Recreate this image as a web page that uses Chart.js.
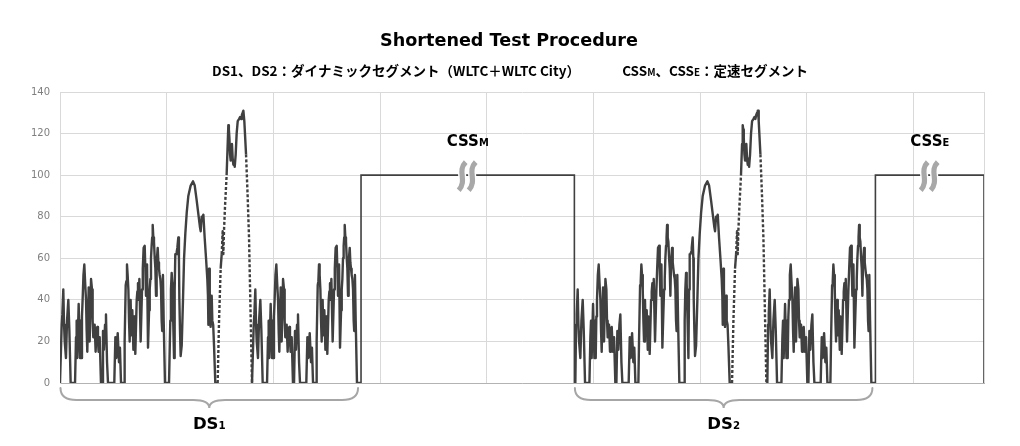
<!DOCTYPE html>
<html><head><meta charset="utf-8">
<script src="https://cdn.jsdelivr.net/npm/chart.js@4.4.1/dist/chart.umd.min.js"></script>
<style>html,body{margin:0;padding:0;background:#fff}#wrap{width:1020px;height:446px;position:relative}</style>
</head><body><div id="wrap"><canvas id="c" width="1020" height="446"></canvas></div>
<script>
// ---------- texts ----------
const titleText = 'Shortened Test Procedure';
const subtitleLeft = 'DS1、DS2：ダイナミックセグメント（WLTC＋WLTC City）';
const subtitleRight = [['CSS', 1], ['M', 0.72], ['、CSS', 1], ['E', 0.72], ['：定速セグメント', 1]];

// ---------- speed trace (time s, speed km/h) ----------
// WLTC low + medium phase (also used as "WLTC City")
const lowMedTime  = [0, 9, 16, 22, 31, 38, 44, 50, 56, 66, 78, 88, 100, 141, 150, 156, 162, 175, 188, 194, 200, 206, 212, 220, 228, 236, 244, 250, 256, 269, 278, 291, 300, 306, 312, 325, 334, 342, 350, 356, 362, 372, 384, 394, 403, 412, 422, 431, 441, 450, 509, 519, 528, 541, 553, 562, 572, 600,
  606, 616, 622, 628, 634, 641, 647, 653, 662, 669, 678, 688, 694, 700, 706, 719, 725, 731, 738, 744, 756, 769, 776, 784, 794, 800, 806, 816, 825, 835, 841, 847, 853, 859, 864, 869, 875, 881, 888, 894, 900, 906, 916, 922, 928, 934, 941, 947, 953, 958, 965, 972, 984, 1022];
const lowMedSpeed = [0, 0, 28, 33, 45, 28, 20, 16, 12, 30, 40, 25, 0, 0, 22, 30, 12, 38, 12, 30, 12, 32, 40, 52, 57, 48, 40, 25, 15, 46, 20, 50, 45, 30, 22, 28, 15, 26, 27, 20, 15, 22, 0, 0, 25, 16, 28, 33, 10, 0, 0, 22, 12, 24, 10, 17, 0, 0,
  20, 47, 49, 57, 52, 45, 30, 20, 40, 23, 35, 16, 32, 25, 14, 40, 44, 48, 40, 50, 20, 45, 55, 65, 66, 55, 42, 57, 17, 35, 45, 50, 60, 66, 70, 76, 70, 68, 60, 55, 42, 58, 65, 58, 55, 52, 50, 45, 30, 25, 52, 30, 0, 0];
// WLTC high phase
const highTime  = [1028, 1034, 1040, 1047, 1053, 1059, 1069, 1075, 1081, 1088, 1094, 1100, 1109, 1115, 1119, 1125, 1131, 1141, 1153, 1163, 1175, 1188, 1203, 1225, 1247, 1263, 1281, 1300, 1312, 1319, 1328, 1335, 1344, 1356, 1369, 1381, 1387, 1391, 1397, 1402, 1406, 1412, 1418, 1422, 1428, 1436, 1444, 1456, 1478];
const highSpeed = [0, 30, 45, 53, 48, 35, 12, 45, 62, 62, 63, 65, 70, 60, 40, 25, 13, 18, 40, 60, 72, 82, 90, 95, 97, 95, 88, 80, 75, 73, 80, 79, 81, 70, 60, 50, 42, 28, 55, 45, 40, 27, 35, 42, 30, 28, 18, 0, 0];
// WLTC extra high phase
const exHighTime  = [1491, 1506, 1516, 1525, 1531, 1538, 1547, 1562, 1572, 1578, 1583, 1588, 1594, 1600, 1606, 1612, 1619, 1625, 1632, 1638, 1647, 1656, 1666, 1678, 1688, 1697, 1705, 1712, 1719, 1722, 1728, 1744, 1759, 1772, 1784, 1794, 1800];
const exHighSpeed = [30, 55, 62, 73, 62, 74, 85, 100, 115, 124, 122, 118, 110, 107, 112, 115, 108, 105, 106, 104, 110, 120, 126, 127, 128, 127, 129, 130, 131, 131, 126, 110, 90, 70, 40, 15, 0];
const cityOffset = 1800;          // WLTC City follows the full WLTC
const exHighRange = [1478, 1800];

// ---------- segments ----------
const dsStart  = [0, 4822];
const dsSub    = ['1', '2'];
const cssStart = [2822, 7644];
const cssEnd   = [4822, 8662];
const cssSpeed = [100, 100];
const cssSub   = ['M', 'E'];

// ---------- axes ----------
const xMax = 8662, xGridStep = 1000;
const yMin = 0, yMax = 140, yStep = 20;

function buildDS(off) {
  const pts = [];
  const add = (T, V, o) => T.forEach((t, i) => pts.push({x: off + o + t, y: V[i]}));
  add(lowMedTime, lowMedSpeed, 0);
  add(highTime, highSpeed, 0);
  add(exHighTime, exHighSpeed, 0);
  add(lowMedTime, lowMedSpeed, cityOffset);
  return pts;
}
const cssPts = [];
cssStart.forEach((s, i) => {
  if (i) cssPts.push({x: s, y: null});
  cssPts.push({x: s, y: 0}, {x: s, y: cssSpeed[i]}, {x: cssEnd[i], y: cssSpeed[i]}, {x: cssEnd[i], y: 0});
});

const DARK = '#404040';
function dashSeg(ctx) {
  const off = dsStart[ctx.datasetIndex];
  const a = ctx.p0.parsed, b = ctx.p1.parsed;
  const t0 = a.x - off, t1 = b.x - off;
  if (t0 < exHighRange[0] || t1 > exHighRange[1]) return undefined;
  if (a.y >= 100 && b.y >= 100) return undefined;
  const slope = Math.abs(b.y - a.y) / Math.max(1e-6, (b.x - a.x));
  return (slope >= 0.95 && Math.abs(b.y - a.y) >= 10) ? [3, 2] : undefined;
}

const CJK = '"Noto Sans CJK JP", "Noto Sans"';
const LAT = '"DejaVu Sans"';
function drawRich(ctx, pieces, x, y, base, align, fam) {
  let total = 0;
  pieces.forEach(p => { ctx.font = 'bold ' + (base * p[1]) + 'px ' + fam; total += ctx.measureText(p[0]).width; });
  let cx = align === 'center' ? x - total / 2 : align === 'right' ? x - total : x;
  ctx.textAlign = 'left'; ctx.textBaseline = 'alphabetic';
  pieces.forEach(p => { ctx.font = 'bold ' + (base * p[1]) + 'px ' + fam; ctx.fillText(p[0], cx, y); cx += ctx.measureText(p[0]).width; });
}

function strokePath(ctx, s, yTop, yBot) {
  ctx.beginPath();
  ctx.moveTo(s + 4, yTop);
  ctx.bezierCurveTo(s - 5, yTop + 9, s + 6, yBot - 10, s - 3, yBot);
}
function breakMark(ctx, c, yTop, yBot) {
  const xsP = [c - 5, c + 5];
  ctx.lineCap = 'butt';
  xsP.forEach(s => { strokePath(ctx, s, yTop, yBot); ctx.strokeStyle = '#fff'; ctx.lineWidth = 8; ctx.stroke(); });
  xsP.forEach(s => { strokePath(ctx, s, yTop, yBot); ctx.strokeStyle = '#a8a8a8'; ctx.lineWidth = 5.2; ctx.stroke(); });
}

const deco = {
  id: 'deco',
  afterDraw(chart) {
    const ctx = chart.ctx, xs = chart.scales.x, ys = chart.scales.y;
    ctx.save();
    ctx.fillStyle = '#000';
    // title fitted to width
    ctx.font = 'bold 18px ' + LAT;
    const tf = 18 * 258 / ctx.measureText(titleText).width;
    ctx.font = 'bold ' + tf + 'px ' + LAT;
    ctx.textAlign = 'center'; ctx.textBaseline = 'alphabetic';
    ctx.fillText(titleText, 509, 46);
    // subtitle (fit to width)
    ctx.font = 'bold 13px ' + CJK;
    const fs = 13 * 368 / ctx.measureText(subtitleLeft).width;
    ctx.font = 'bold ' + fs + 'px ' + CJK;
    ctx.textAlign = 'left';
    ctx.fillText(subtitleLeft, 212, 76);
    drawRich(ctx, subtitleRight, 808, 76, fs, 'right', CJK);
    // CSS labels and break marks
    cssStart.forEach((s, i) => {
      const c = xs.getPixelForValue((s + cssEnd[i]) / 2);
      drawRich(ctx, [['CSS', 1], [cssSub[i], 0.66]], c, 146, 15, 'center', LAT);
      const yl = ys.getPixelForValue(cssSpeed[i]);
      breakMark(ctx, c - 1, yl - 13, yl + 15);
    });
    // braces and DS labels
    dsStart.forEach((s, i) => {
      const x0 = xs.getPixelForValue(s) + 0.5;
      const x1 = xs.getPixelForValue(s + cityOffset + lowMedTime[lowMedTime.length - 1]) - 3;
      const c = (x0 + x1) / 2;
      const yT = 388, yH = 400, yB = 408;
      ctx.beginPath();
      ctx.moveTo(x0, yT);
      ctx.quadraticCurveTo(x0, yH, x0 + 16, yH);
      ctx.lineTo(c - 16, yH);
      ctx.quadraticCurveTo(c, yH, c, yB);
      ctx.quadraticCurveTo(c, yH, c + 16, yH);
      ctx.lineTo(x1 - 16, yH);
      ctx.quadraticCurveTo(x1, yH, x1, yT);
      ctx.strokeStyle = '#a6a6a6'; ctx.lineWidth = 2; ctx.lineCap = 'round'; ctx.stroke();
      ctx.fillStyle = '#000';
      drawRich(ctx, [['DS', 1], [dsSub[i], 0.62]], c, 429, 16.5, 'center', LAT);
    });
    ctx.restore();
  }
};

new Chart(document.getElementById('c'), {
  type: 'line',
  data: {
    datasets: [
      {data: buildDS(dsStart[0]), borderColor: DARK, borderWidth: 2.4, pointRadius: 0, borderJoinStyle: 'round', segment: {borderDash: dashSeg}},
      {data: buildDS(dsStart[1]), borderColor: DARK, borderWidth: 2.4, pointRadius: 0, borderJoinStyle: 'round', segment: {borderDash: dashSeg}},
      {data: cssPts, borderColor: DARK, borderWidth: 1.6, pointRadius: 0, spanGaps: false}
    ]
  },
  options: {
    responsive: false, animation: false, devicePixelRatio: 1,
    layout: {padding: {top: 92, right: 36, bottom: 63, left: 0}},
    plugins: {legend: {display: false}, tooltip: {enabled: false}, title: {display: false}},
    scales: {
      x: {
        type: 'linear', min: 0, max: xMax,
        ticks: {display: false},
        afterBuildTicks: (s) => {
          const t = [];
          for (let v = 0; v < xMax; v += xGridStep) t.push({value: v});
          t.push({value: xMax});
          s.ticks = t;
        },
        grid: {color: '#d9d9d9', drawTicks: false},
        border: {color: '#b3b3b3'}
      },
      y: {
        min: yMin, max: yMax,
        ticks: {stepSize: yStep, color: '#7f7f7f', padding: 10, font: {family: 'DejaVu Sans', size: 10}},
        grid: {color: '#d9d9d9', drawTicks: false},
        border: {color: '#d9d9d9'},
        afterFit: (s) => { s.width = 60; }
      }
    }
  },
  plugins: [deco]
});
</script>
</body></html>
